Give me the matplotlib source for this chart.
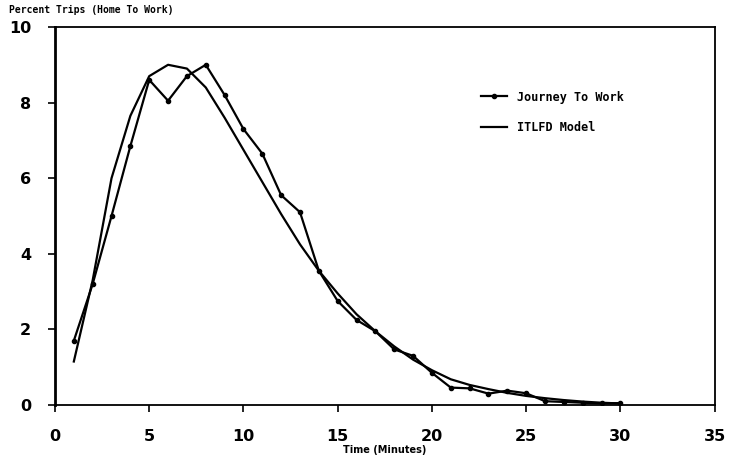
import numpy as np
from matplotlib import pyplot as plt

# Dados
minutes = np.arange(1, 31)
journey = [1.7, 3.2, 5.0, 6.85, 8.6, 8.05, 8.7, 9.0, 8.2, 7.3,
           6.65, 5.55, 5.1, 3.55, 2.75, 2.25, 1.95, 1.47, 1.3, 0.85,
           0.46, 0.44, 0.3, 0.38, 0.31, 0.1, 0.08, 0.06, 0.04, 0.05]
model = [1.15, 3.3, 6.0, 7.65, 8.7, 9.0, 8.9, 8.4, 7.6, 6.75,
         5.9, 5.05, 4.25, 3.55, 2.95, 2.4, 1.95, 1.55, 1.2, 0.92,
         0.68, 0.53, 0.42, 0.32, 0.24, 0.18, 0.13, 0.09, 0.06, 0.04]
xticks = np.arange(0, 36, 5)
yticks = np.arange(0, 11, 2)

fig = plt.figure(figsize=(7.36, 4.63), dpi=100)
ax = fig.add_axes([0.0747, 0.1253, 0.8963, 0.8164])

ax.plot(minutes, journey, color='black', lw=1.6, marker='o', ms=3, label='Journey To Work')
ax.plot(minutes, model, color='black', lw=1.6, label='ITLFD Model')

ax.set_xlim(0, 35)
ax.set_ylim(0, 10)
ax.set_xticks(xticks)
ax.set_yticks(yticks)
ax.tick_params(direction='out', length=5, width=1.2, labelsize=11.5, pad=12)
for lab in ax.get_xticklabels() + ax.get_yticklabels():
    lab.set_fontweight('bold')
for s in ax.spines.values():
    s.set_linewidth(1.3)
ax.spines['left'].set_linewidth(2)

ax.set_xlabel('Time (Minutes)', fontsize=7, fontweight='bold', labelpad=1)
fig.text(0.012, 0.968, 'Percent Trips (Home To Work)', fontsize=7, fontweight='bold',
         family='DejaVu Sans Mono', ha='left', va='bottom')

leg = ax.legend(loc='upper left', bbox_to_anchor=(0.63, 0.86), frameon=False,
                handlelength=2.2, labelspacing=1.45,
                prop={'family': 'DejaVu Sans Mono', 'weight': 'bold', 'size': 8.5})

fig.savefig('out.png', dpi=100)
